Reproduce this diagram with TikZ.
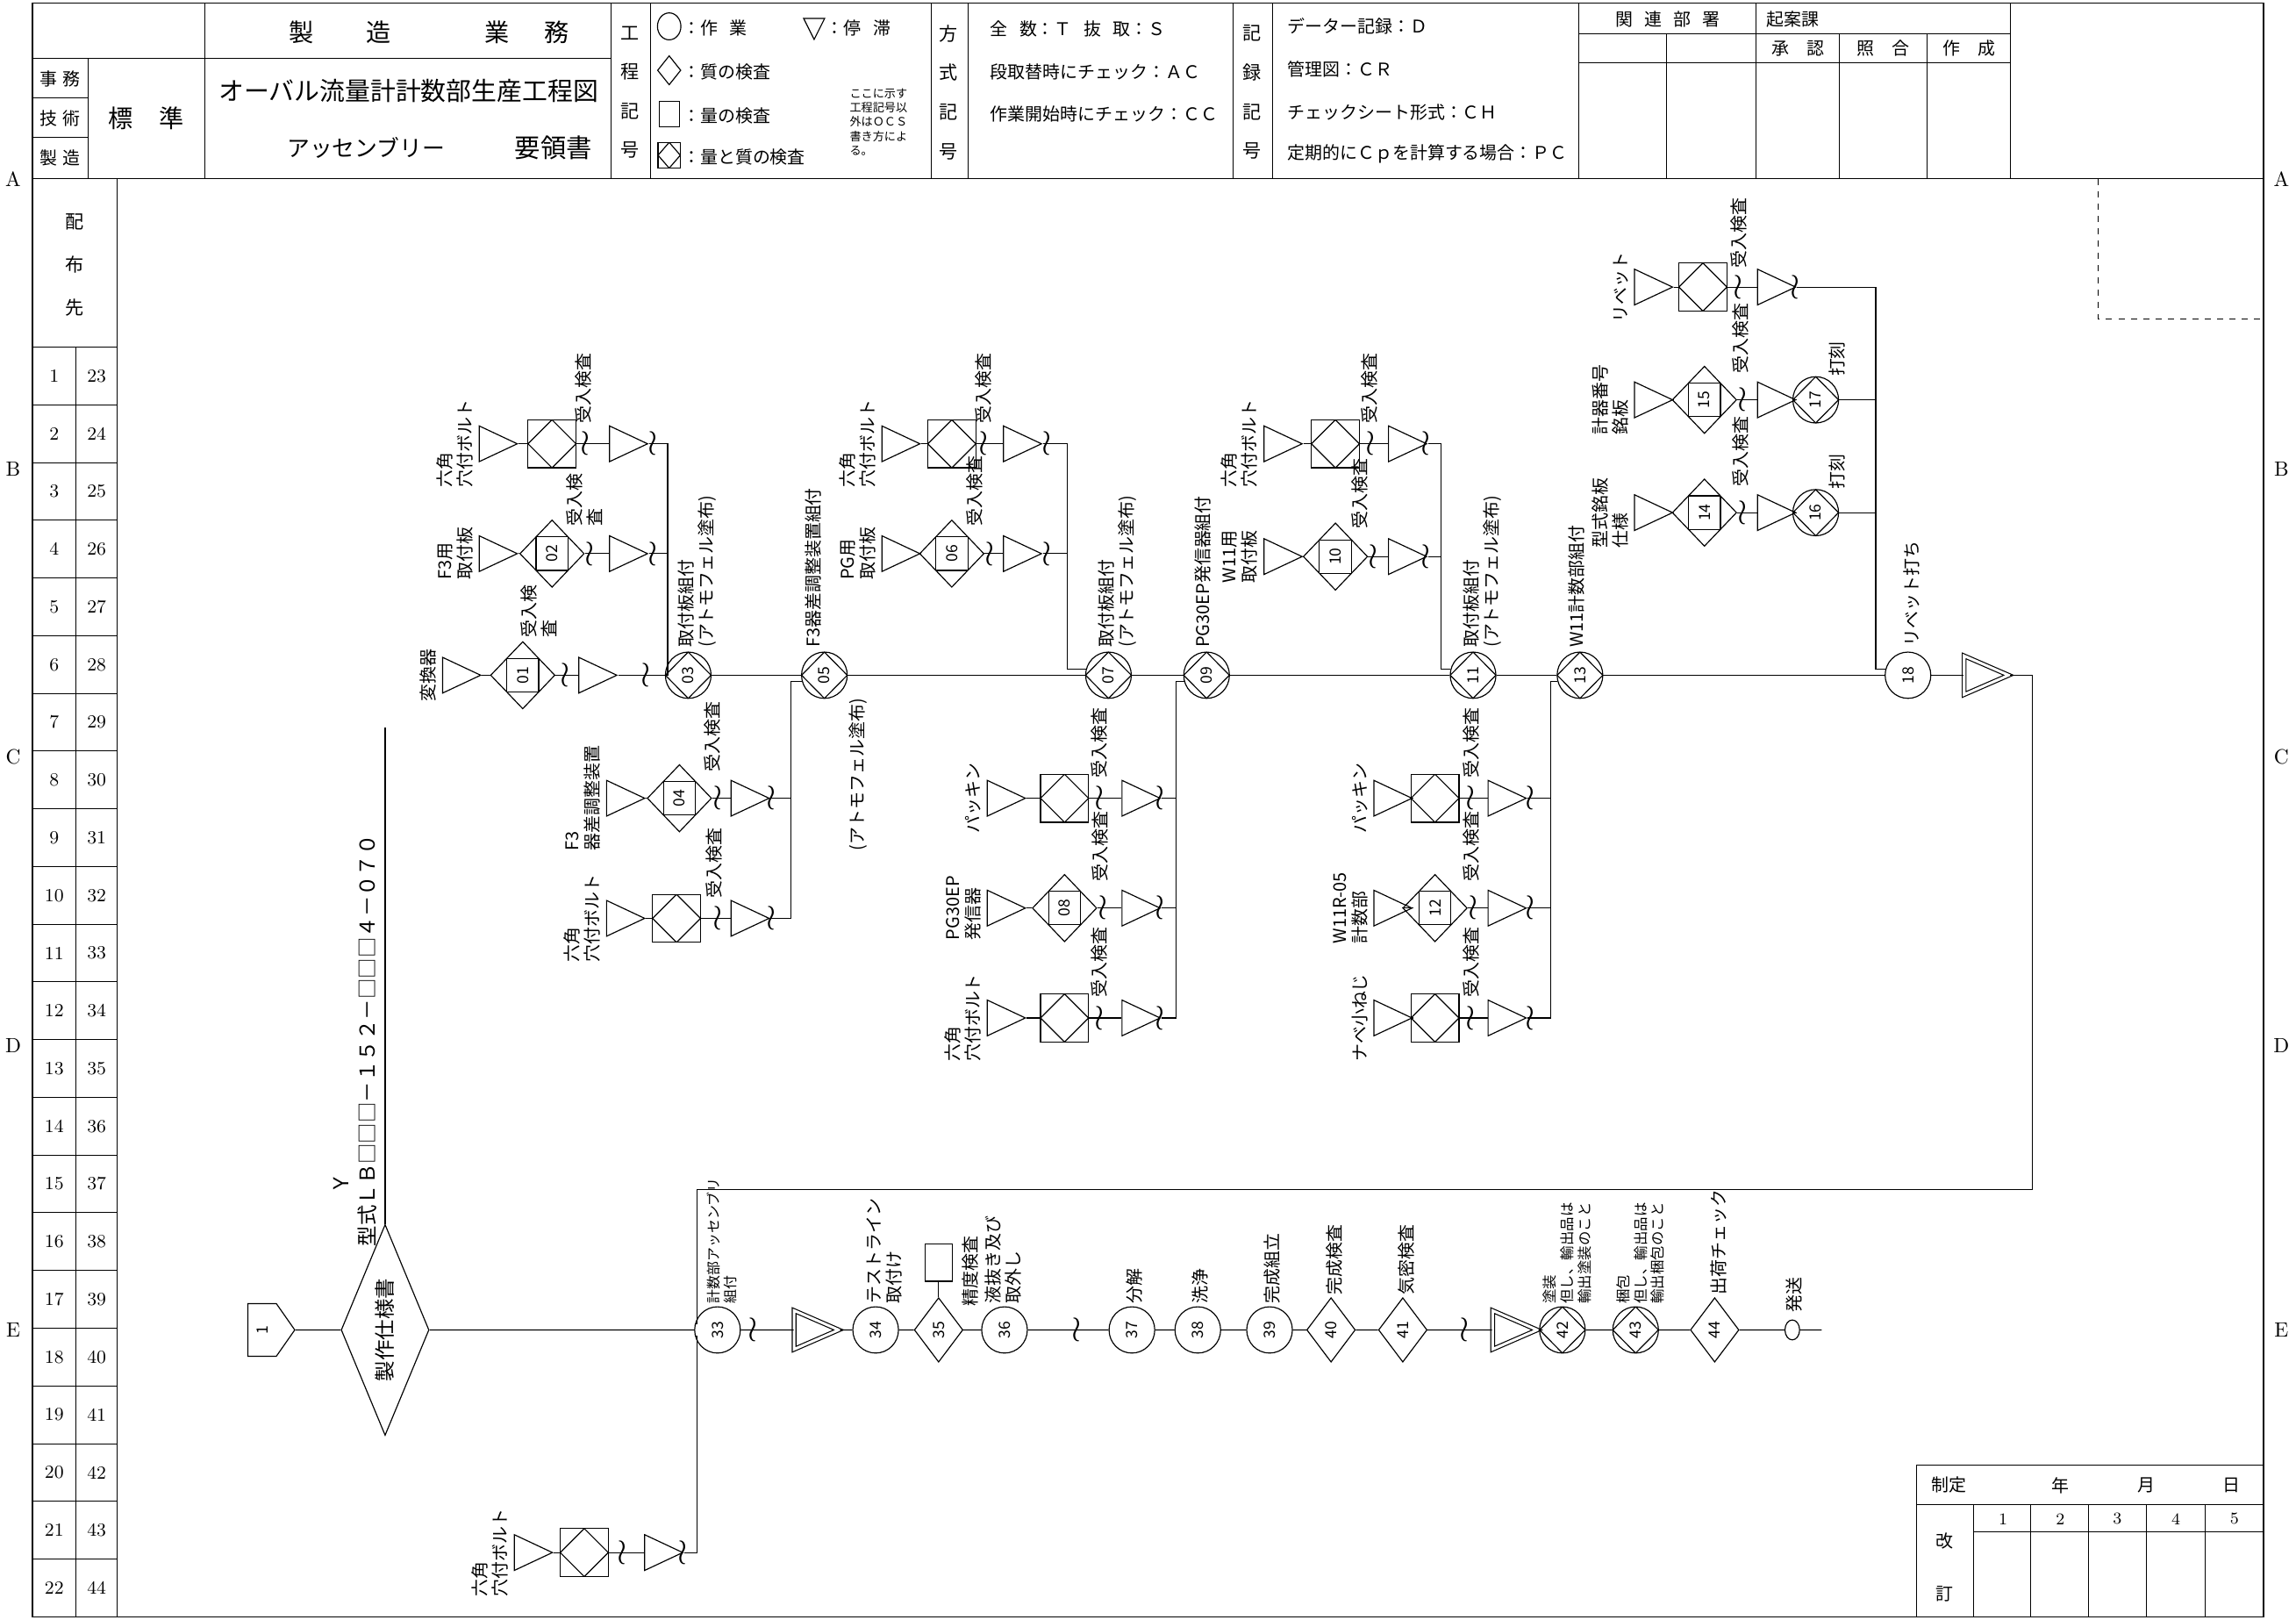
\documentclass[tikz,border=0pt]{standalone}
\usepackage{fontspec}
\newfontfamily\jp{Noto Sans CJK JP}
\usetikzlibrary{shapes.geometric,shapes.symbols,shapes.misc,calc}

\newcommand{\rn}[1]{\rotatebox{90}{#1}}
\newcommand{\lblfont}{\jp\fontsize{8.5}{9.8}\selectfont}
\newcommand{\numfont}{\jp\fontsize{7.5}{8}\selectfont}
\newcommand{\hdfont}{\jp\fontsize{8.5}{10}\selectfont}

\tikzset{
  frame/.style={line width=0.7pt},
  flow/.style={line width=0.5pt},
  stock/.style={draw, flow, isosceles triangle, isosceles triangle stretches,
    minimum width=6.1mm, minimum height=6.5mm, inner sep=0pt},
  stockdbl/.style={stock, double, double distance=1.3pt,
    minimum width=6.6mm, minimum height=7.6mm},
  insbox/.style={draw, flow, minimum width=8.2mm, minimum height=8.2mm, inner sep=0pt,
    path picture={\draw [flow] (path picture bounding box.north)
      -- (path picture bounding box.east) -- (path picture bounding box.south)
      -- (path picture bounding box.west) -- cycle;}},
  numdia/.style={draw, flow, diamond, minimum width=11mm, minimum height=11.5mm,
    inner sep=0pt, font=\numfont,
    path picture={\draw [flow]
      ($(path picture bounding box.south west)!.25!(path picture bounding box.north east)$)
      rectangle
      ($(path picture bounding box.south west)!.75!(path picture bounding box.north east)$);}},
  oper/.style={draw, flow, ellipse, minimum width=7.8mm, minimum height=7.9mm,
    inner sep=0pt, font=\numfont},
  opq/.style={oper,
    path picture={\draw [flow] (path picture bounding box.north)
      -- (path picture bounding box.east) -- (path picture bounding box.south)
      -- (path picture bounding box.west) -- cycle;}},
  qual/.style={draw, flow, diamond, minimum width=8.3mm, minimum height=11mm,
    inner sep=0pt, font=\numfont},
  brk/.style={inner sep=0pt, font=\fontsize{17}{17}\selectfont},
  lbl/.style={font=\lblfont, inner sep=0.5pt, align=left},
  up/.style={lbl, rotate=90, anchor=north west},
  lft/.style={lbl, rotate=90, anchor=south},
  dn/.style={lbl, rotate=90, anchor=east},
  hd/.style={font=\hdfont, inner sep=0pt},
}

\begin{document}
\begin{tikzpicture}[x=0.25mm,y=-0.25mm]
      \useasboundingbox (0,0) rectangle (1568,1106);
%% sheet frame, distribution list
      \draw [frame] (22,2) rectangle (1546,1104);
      \draw [frame] (22,122) -- (1546,122);
      \draw [frame] (80,122) -- (80,1104);
      \draw (52,237) -- (52,1104);
      \draw (22,237) -- (80,237);
      \node (dist) [hd, align=center, font=\jp\fontsize{9}{21}\selectfont] at (51,181) {配\\布\\先};
      \foreach \r in {1,...,22} {
        \pgfmathtruncatemacro{\rr}{\r+22}
        \node (dl\r) [font=\fontsize{9}{9}\selectfont] at (37,217.3+39.4*\r) {\r};
        \node (dr\r) [font=\fontsize{9}{9}\selectfont] at (66,217.3+39.4*\r) {\rr};
        \draw (22,237+39.4*\r) -- (80,237+39.4*\r);
      }
      \node (mA) at (9,122) {A};
      \node (mB) at (9,320) {B};
      \node (mC) at (9,517) {C};
      \node (mD) at (9,714) {D};
      \node (mE) at (9,908) {E};
      \node (mAr) at (1558,122) {A};
      \node (mBr) at (1558,320) {B};
      \node (mCr) at (1558,517) {C};
      \node (mDr) at (1558,714) {D};
      \node (mEr) at (1558,908) {E};
%% title block
      \draw (22,40) -- (417,40);
      \draw (22,67) -- (60,67);
      \draw (22,94) -- (60,94);
      \draw (60,40) -- (60,122);
      \draw (140,2) -- (140,122);
      \draw (417,2) -- (417,122);
      \draw (444,2) -- (444,122);
      \draw (636,2) -- (636,122);
      \draw (661,2) -- (661,122);
      \draw (842,2) -- (842,122);
      \draw (869,2) -- (869,122);
      \draw (1078,2) -- (1078,122);
      \draw (1078,23) -- (1373,23);
      \draw (1078,43) -- (1373,43);
      \draw (1138,23) -- (1138,122);
      \draw (1199,2) -- (1199,122);
      \draw (1256,23) -- (1256,122);
      \draw (1316,23) -- (1316,122);
      \draw (1373,2) -- (1373,122);
      \draw [dashed] (1433,122) -- (1433,218) -- (1546,218);
      \node (dep1) [hd] at (41,54) {事\hspace{0.8mm}務};
      \node (dep2) [hd] at (41,81) {技\hspace{0.8mm}術};
      \node (dep3) [hd] at (41,108) {製\hspace{0.8mm}造};
      \node (std) [hd, font=\jp\fontsize{12}{12}\selectfont] at (100,81) {標\hspace{4.5mm}準};
      \node (sec) [hd, anchor=west, font=\jp\fontsize{12}{12}\selectfont] at (197,22) {製\hspace{9mm}造\hspace{16mm}業\hspace{6mm}務};
      \node (ttl1) [hd, font=\jp\fontsize{12.3}{13}\selectfont] at (279,62) {オーバル流量計計数部生産工程図};
      \node (ttl2) [hd, font=\jp\fontsize{11}{12}\selectfont] at (250,101) {アッセンブリー};
      \node (ttl3) [hd, font=\jp\fontsize{12.5}{13}\selectfont] at (378,101) {要領書};
%% legend
      \node (kk) [hd, align=center, font=\jp\fontsize{9}{19}\selectfont] at (430,63) {工\\程\\記\\号};
      \node (lgo) [draw, flow, ellipse, minimum width=4mm, minimum height=4.6mm, inner sep=0pt] at (457,18) {};
      \node (lgot) [hd, anchor=west] at (466,19) {：作\hspace{2mm}業};
      \node (lgt) [draw, flow, isosceles triangle, isosceles triangle stretches, shape border rotate=270, minimum width=3.6mm, minimum height=3.6mm, inner sep=0pt] at (556,17) {};
      \node (lgtt) [hd, anchor=west] at (564,19) {：停\hspace{2mm}滞};
      \node (lgd) [draw, flow, diamond, minimum width=4mm, minimum height=5mm, inner sep=0pt] at (457,48) {};
      \node (lgdt) [hd, anchor=west] at (466,49) {：質の検査};
      \node (lgs) [draw, flow, minimum width=3.4mm, minimum height=4.4mm, inner sep=0pt] at (457,78) {};
      \node (lgst) [hd, anchor=west] at (466,79) {：量の検査};
      \node (lgq) [insbox, minimum width=3.8mm, minimum height=4.4mm] at (457,106) {};
      \node (lgqt) [hd, anchor=west] at (466,107) {：量と質の検査};
      \node (lgn) [hd, anchor=north west, align=left, font=\jp\fontsize{5.6}{7}\selectfont] at (580,60) {ここに示す\\工程記号以\\外はＯＣＳ\\書き方によ\\る。};
      \node (hs) [hd, align=center, font=\jp\fontsize{9}{19}\selectfont] at (648,63) {方\\式\\記\\号};
      \node (ms1) [hd, anchor=west] at (676,20) {全\hspace{2mm}数：Ｔ\hspace{2mm}抜\hspace{2mm}取：Ｓ};
      \node (ms2) [hd, anchor=west] at (676,49) {段取替時にチェック：ＡＣ};
      \node (ms3) [hd, anchor=west] at (676,78) {作業開始時にチェック：ＣＣ};
      \node (hr) [hd, align=center, font=\jp\fontsize{9}{19}\selectfont] at (855,63) {記\\録\\記\\号};
      \node (rc1) [hd, anchor=west] at (879,18) {データー記録：Ｄ};
      \node (rc2) [hd, anchor=west] at (879,47) {管理図：ＣＲ};
      \node (rc3) [hd, anchor=west] at (879,77) {チェックシート形式：ＣＨ};
      \node (rc4) [hd, anchor=west] at (879,105) {定期的にＣｐを計算する場合：ＰＣ};
      \node (rel) [hd] at (1139,13) {関\hspace{2mm}連\hspace{2mm}部\hspace{2mm}署};
      \node (kian) [hd, anchor=west] at (1206,13) {起案課};
      \node (ap1) [hd] at (1228,33) {承\hspace{3mm}認};
      \node (ap2) [hd] at (1286,33) {照\hspace{3mm}合};
      \node (ap3) [hd] at (1345,33) {作\hspace{3mm}成};
%% revision table
      \draw (1309,1000) -- (1546,1000);
      \draw (1309,1000) -- (1309,1104);
      \draw (1309,1027) -- (1546,1027);
      \draw (1348,1046) -- (1546,1046);
      \draw (1348,1027) -- (1348,1104);
      \draw (1387,1027) -- (1387,1104);
      \draw (1426,1027) -- (1426,1104);
      \draw (1466,1027) -- (1466,1104);
      \draw (1506,1027) -- (1506,1104);
      \node (rv0) [hd] at (1331,1014) {制定};
      \node (rvy) [hd] at (1407,1014) {年};
      \node (rvm) [hd] at (1466,1014) {月};
      \node (rvd) [hd] at (1524,1014) {日};
      \node (rv1) [font=\fontsize{8}{8}\selectfont] at (1368,1037) {1};
      \node (rv2) [font=\fontsize{8}{8}\selectfont] at (1407,1037) {2};
      \node (rv3) [font=\fontsize{8}{8}\selectfont] at (1446,1037) {3};
      \node (rv4) [font=\fontsize{8}{8}\selectfont] at (1486,1037) {4};
      \node (rv5) [font=\fontsize{8}{8}\selectfont] at (1526,1037) {5};
      \node (rvk1) [hd] at (1328,1052) {改};
      \node (rvk2) [hd] at (1328,1088) {訂};
%% upper main line
      \node (tconv) [stock] at (310,461) {};
      \node [lft] at ([xshift=-0.75mm]tconv.west) {変換器};
      \node (q01) [numdia] at (357,461) {\rn{01}};
      \node [up] at (355,436) {受入検\\査};
      \node (k01) [brk] at (386,461) {$\wr$};
      \node (s01) [stock] at (403,461) {};
      \node (k01b) [brk] at (441,461) {$\wr$};
      \node (n03) [opq] at (470,461) {\rn{03}};
      \node [up] at (462,443) {取付板組付\\(アトモフェル塗布)};
      \node (n05) [opq] at (563,461) {\rn{05}};
      \node [up] at (549,443) {F3器差調整装置組付};
      \node [dn] at (586,476) {(アトモフェル塗布)};
      \node (n07) [opq] at (757,461) {\rn{07}};
      \node [up] at (749,443) {取付板組付\\(アトモフェル塗布)};
      \node (n09) [opq] at (824,461) {\rn{09}};
      \node [up] at (815,443) {PG30EP発信器組付};
      \node (n11) [opq] at (1006,461) {\rn{11}};
      \node [up] at (998,443) {取付板組付\\(アトモフェル塗布)};
      \node (n13) [opq] at (1079,461) {\rn{13}};
      \node [up] at (1070,443) {W11計数部組付};
      \node (n18) [oper] at (1303,461) {\rn{18}};
      \node [up] at (1299,442) {リベット打ち};
      \node (s18) [stockdbl] at (1350,461) {};
      \coordinate (cR1) at (1388,461);
      \coordinate (cR2) at (1388,812);
      \coordinate (cL2) at (476,812);
      \draw [flow] (tconv) -- (q01) -- (s01) -- (n03) -- (n05) -- (n07) -- (n09) -- (n11) -- (n13) -- (n18) -- (s18) -- (cR1) -- (cR2) -- (cL2);
%% feed to 03
      \node (a03s1) [stock] at (335,303) {};
      \node [lft] at ([xshift=-0.75mm]a03s1.west) {六角\\穴付ボルト};
      \node (a03q) [insbox] at (377,303) {};
      \node [up] at (392,290) {受入検査};
      \node (ka03) [brk] at (400,303) {$\wr$};
      \node (a03s2) [stock] at (424,303) {};
      \node (ka03b) [brk] at (446,303) {$\wr$};
      \coordinate (b03a) at (456,303);
      \node (b03s1) [stock] at (335,378) {};
      \node [lft] at ([xshift=-0.75mm]b03s1.west) {F3用\\取付板};
      \node (q02) [numdia] at (377,378) {\rn{02}};
      \node [up] at (386,360) {受入検\\査};
      \node (kb03) [brk] at (403,378) {$\wr$};
      \node (b03s2) [stock] at (424,378) {};
      \node (kb03b) [brk] at (446,378) {$\wr$};
      \coordinate (b03b) at (456,378);
      \draw [flow] (a03s1) -- (a03q) -- (a03s2) -- (b03a) |- (n03.west);
      \draw [flow] (b03s1) -- (q02) -- (b03s2) -- (b03b);
%% feed to 05
      \node (c05s1) [stock] at (422,545) {};
      \node [lft] at ([xshift=-0.75mm]c05s1.west) {F3\\器差調整装置};
      \node (q04) [numdia] at (464,545) {\rn{04}};
      \node [up] at (480,528) {受入検査};
      \node (kc05) [brk] at (490,545) {$\wr$};
      \node (c05s2) [stock] at (507,545) {};
      \node (kc05b) [brk] at (527,545) {$\wr$};
      \coordinate (b05c) at (540,545);
      \node (d05s1) [stock] at (422,627) {};
      \node [lft] at ([xshift=-0.75mm]d05s1.west) {六角\\穴付ボルト};
      \node (d05q) [insbox] at (462,627) {};
      \node [up] at (481,614) {受入検査};
      \node (kd05) [brk] at (490,627) {$\wr$};
      \node (d05s2) [stock] at (507,627) {};
      \node (kd05b) [brk] at (527,627) {$\wr$};
      \coordinate (b05d) at (540,627);
      \draw [flow] (c05s1) -- (q04) -- (c05s2) -- (b05c);
      \draw [flow] (d05s1) -- (d05q) -- (d05s2) -- (b05d) |- (n05.195);
%% feed to 07
      \node (a07s1) [stock] at (610,303) {};
      \node [lft] at ([xshift=-0.75mm]a07s1.west) {六角\\穴付ボルト};
      \node (a07q) [insbox] at (650,303) {};
      \node [up] at (665,290) {受入検査};
      \node (ka07) [brk] at (672,303) {$\wr$};
      \node (a07s2) [stock] at (693,303) {};
      \node (ka07b) [brk] at (715,303) {$\wr$};
      \coordinate (b07a) at (729,303);
      \node (b07s1) [stock] at (610,378) {};
      \node [lft] at ([xshift=-0.75mm]b07s1.west) {PG用\\取付板};
      \node (q06) [numdia] at (650,378) {\rn{06}};
      \node [up] at (659,360) {受入検査};
      \node (kb07) [brk] at (676,378) {$\wr$};
      \node (b07s2) [stock] at (693,378) {};
      \node (kb07b) [brk] at (715,378) {$\wr$};
      \coordinate (b07b) at (729,378);
      \draw [flow] (a07s1) -- (a07q) -- (a07s2) -- (b07a) |- (n07.165);
      \draw [flow] (b07s1) -- (q06) -- (b07s2) -- (b07b);
%% feed to 09
      \node (c09s1) [stock] at (682,545) {};
      \node [lft] at ([xshift=-0.75mm]c09s1.west) {パッキン};
      \node (c09q) [insbox] at (727,545) {};
      \node [up] at (744,532) {受入検査};
      \node (kc09) [brk] at (751,545) {$\wr$};
      \node (c09s2) [stock] at (774,545) {};
      \node (kc09b) [brk] at (792,545) {$\wr$};
      \coordinate (b09c) at (803,545);
      \node (d09s1) [stock] at (682,620) {};
      \node [lft] at ([xshift=-0.75mm]d09s1.west) {PG30EP\\発信器};
      \node (q08) [numdia] at (727,620) {\rn{08}};
      \node [up] at (745,603) {受入検査};
      \node (kd09) [brk] at (753,620) {$\wr$};
      \node (d09s2) [stock] at (774,620) {};
      \node (kd09b) [brk] at (792,620) {$\wr$};
      \coordinate (b09d) at (803,620);
      \node (e09s1) [stock] at (682,695) {};
      \node [lft] at ([xshift=-0.75mm]e09s1.west) {六角\\穴付ボルト};
      \node (e09q) [insbox] at (727,695) {};
      \node [up] at (744,682) {受入検査};
      \node (ke09) [brk] at (751,695) {$\wr$};
      \node (e09s2) [stock] at (774,695) {};
      \node (ke09b) [brk] at (792,695) {$\wr$};
      \coordinate (b09e) at (803,695);
      \draw [flow] (c09s1) -- (c09q) -- (c09s2) -- (b09c);
      \draw [flow] (d09s1) -- (q08) -- (d09s2) -- (b09d);
      \draw [flow] (e09s1) -- (e09q) -- (e09s2) -- (b09e) |- (n09.195);
%% feed to 11
      \node (a11s1) [stock] at (871,303) {};
      \node [lft] at ([xshift=-0.75mm]a11s1.west) {六角\\穴付ボルト};
      \node (a11q) [insbox] at (912,303) {};
      \node [up] at (929,290) {受入検査};
      \node (ka11) [brk] at (936,303) {$\wr$};
      \node (a11s2) [stock] at (956,303) {};
      \node (ka11b) [brk] at (974,303) {$\wr$};
      \coordinate (b11a) at (984,303);
      \node (b11s1) [stock] at (871,380) {};
      \node [lft] at ([xshift=-0.75mm]b11s1.west) {W11用\\取付板};
      \node (q10) [numdia] at (912,380) {\rn{10}};
      \node [up] at (922,362) {受入検査};
      \node (kb11) [brk] at (938,380) {$\wr$};
      \node (b11s2) [stock] at (956,380) {};
      \node (kb11b) [brk] at (974,380) {$\wr$};
      \coordinate (b11b) at (984,380);
      \draw [flow] (a11s1) -- (a11q) -- (a11s2) -- (b11a) |- (n11.165);
      \draw [flow] (b11s1) -- (q10) -- (b11s2) -- (b11b);
%% feed to 13
      \node (c13s1) [stock] at (946,545) {};
      \node [lft] at ([xshift=-0.75mm]c13s1.west) {パッキン};
      \node (c13q) [insbox] at (980,545) {};
      \node [up] at (998,532) {受入検査};
      \node (kc13) [brk] at (1004,545) {$\wr$};
      \node (c13s2) [stock] at (1024,545) {};
      \node (kc13b) [brk] at (1045,545) {$\wr$};
      \coordinate (b13c) at (1059,545);
      \node (d13s1) [stock] at (946,620) {};
      \node [lft] at ([xshift=-0.75mm]d13s1.west) {W11R-05\\計数部};
      \node (q12) [numdia] at (980,620) {\rn{12}};
      \node [up] at (998,603) {受入検査};
      \node (kd13) [brk] at (1006,620) {$\wr$};
      \node (d13s2) [stock] at (1024,620) {};
      \node (kd13b) [brk] at (1045,620) {$\wr$};
      \coordinate (b13d) at (1059,620);
      \node (e13s1) [stock] at (946,695) {};
      \node [lft] at ([xshift=-0.75mm]e13s1.west) {ナベ小ねじ};
      \node (e13q) [insbox] at (980,695) {};
      \node [up] at (998,682) {受入検査};
      \node (ke13) [brk] at (1004,695) {$\wr$};
      \node (e13s2) [stock] at (1024,695) {};
      \node (ke13b) [brk] at (1045,695) {$\wr$};
      \coordinate (b13e) at (1059,695);
      \draw [flow] (c13s1) -- (c13q) -- (c13s2) -- (b13c);
      \draw [flow] (d13s1) -- (q12) -- (d13s2) -- (b13d);
      \draw [flow] (e13s1) -- (e13q) -- (e13s2) -- (b13e) |- (n13.195);
%% feed to 18
      \node (rs1) [stock] at (1124,196) {};
      \node [lft] at ([xshift=-0.75mm]rs1.west) {リベット};
      \node (rq) [insbox] at (1163,196) {};
      \node [up] at (1181,184) {受入検査};
      \node (kr) [brk] at (1187,196) {$\wr$};
      \node (rs2) [stock] at (1208,196) {};
      \node (krb) [brk] at (1226,196) {$\wr$};
      \coordinate (b18r) at (1281,196);
      \node (s15a) [stock] at (1124,273) {};
      \node [lft] at ([xshift=-0.75mm]s15a.west) {計器番号\\銘板};
      \node (q15) [numdia] at (1164,273) {\rn{15}};
      \node [up] at (1182,256) {受入検査};
      \node (k15) [brk] at (1190,273) {$\wr$};
      \node (s15b) [stock] at (1208,273) {};
      \node (n17) [opq] at (1240,273) {\rn{17}};
      \node [up] at (1248,258) {打刻};
      \coordinate (b18f) at (1281,273);
      \node (s14a) [stock] at (1124,350) {};
      \node [lft] at ([xshift=-0.75mm]s14a.west) {型式銘板\\仕様};
      \node (q14) [numdia] at (1164,350) {\rn{14}};
      \node [up] at (1182,333) {受入検査};
      \node (k14) [brk] at (1190,350) {$\wr$};
      \node (s14b) [stock] at (1208,350) {};
      \node (n16) [opq] at (1240,350) {\rn{16}};
      \node [up] at (1248,335) {打刻};
      \coordinate (b18g) at (1281,350);
      \draw [flow] (rs1) -- (rq) -- (rs2) -- (b18r) |- (n18.165);
      \draw [flow] (s15a) -- (q15) -- (s15b) -- (n17) -- (b18f);
      \draw [flow] (s14a) -- (q14) -- (s14b) -- (n16) -- (b18g);
%% lower main line
      \node (n1) [draw, flow, signal, signal to=east, signal pointer angle=110, minimum width=8mm, minimum height=9mm, inner sep=0pt, font=\numfont] at (179,908) {\rn{1}};
      \node (bigd) [draw, flow, diamond, minimum width=15mm, minimum height=36mm, inner sep=0pt] at (263,908) {};
      \node (bigdt) [lbl, font=\jp\fontsize{10}{10}\selectfont] at (263,908) {\rn{製作仕様書}};
      \coordinate (ytop) at (263,497);
      \draw [flow] (bigd) -- (ytop);
      \node (mdl) [lbl, rotate=90, anchor=west, font=\jp\fontsize{10}{10}\selectfont] at (251,852) {型式ＬＢ□□□－１５２－□□□４－０７０};
      \node (mdly) [lbl, rotate=90, font=\jp\fontsize{10}{10}\selectfont] at (233,808) {Ｙ};
      \node (n33) [oper] at (490,908) {\rn{33}};
      \node [up, font=\jp\fontsize{6.8}{8}\selectfont] at (482,891) {計数部アッセンブリ\\組付};
      \node (k33) [brk] at (514,908) {$\wr$};
      \node (s34) [stockdbl] at (551,908) {};
      \node (n34) [oper] at (598,908) {\rn{34}};
      \node [up] at (591,891) {テストライン\\取付け};
      \node (n35) [qual] at (641,908) {\rn{35}};
      \node (doc35) [draw, flow, chamfered rectangle, chamfered rectangle corners=north east, minimum width=4.6mm, minimum height=6.4mm, inner sep=0pt] at (641,862) {};
      \node [up] at (656,893) {精度検査};
      \node (n36) [oper] at (686,908) {\rn{36}};
      \node [up] at (672,891) {液抜き及び\\取外し};
      \node (k36) [brk] at (735,908) {$\wr$};
      \node (n37) [oper] at (773,908) {\rn{37}};
      \node [up] at (768,891) {分解};
      \node (n38) [oper] at (818,908) {\rn{38}};
      \node [up] at (813,891) {洗浄};
      \node (n39) [oper] at (867,908) {\rn{39}};
      \node [up] at (862,891) {完成組立};
      \node (n40) [qual] at (909,908) {\rn{40}};
      \node [up] at (905,885) {完成検査};
      \node (n41) [qual] at (958,908) {\rn{41}};
      \node [up] at (954,885) {気密検査};
      \node (k41) [brk] at (1000,908) {$\wr$};
      \node (s42) [stockdbl] at (1028,908) {};
      \node (n42) [opq] at (1067,908) {\rn{42}};
      \node [up, font=\jp\fontsize{7}{8.4}\selectfont] at (1053,891) {塗装\\但し、輸出品は\\輸出塗装のこと};
      \node (n43) [opq] at (1117,908) {\rn{43}};
      \node [up, font=\jp\fontsize{7}{8.4}\selectfont] at (1103,891) {梱包\\但し、輸出品は\\輸出梱包のこと};
      \node (n44) [qual] at (1171,908) {\rn{44}};
      \node [up] at (1167,885) {出荷チェック};
      \node (nend) [draw, flow, ellipse, minimum width=2.5mm, minimum height=3.4mm, inner sep=0pt] at (1224,908) {};
      \node [up] at (1219,897) {発送};
      \coordinate (cend) at (1244,908);
      \draw [flow] (n1) -- (bigd) -- (n33) -- (s34) -- (n34) -- (n35) -- (n36) -- (n37) -- (n38) -- (n39) -- (n40) -- (n41) -- (s42) -- (n42) -- (n43) -- (n44) -- (nend) -- (cend);
      \draw [flow] (n35) -- (doc35);
      \draw [flow] (cL2) |- (n33.165);
%% feed to 33
      \node (bs1) [stock] at (359,1060) {};
      \node [lft] at ([xshift=-0.75mm]bs1.west) {六角\\穴付ボルト};
      \node (bq) [insbox] at (399,1060) {};
      \node (kbq) [brk] at (425,1060) {$\wr$};
      \node (bs2) [stock] at (448,1060) {};
      \node (kbqb) [brk] at (466,1060) {$\wr$};
      \coordinate (bbus) at (476,1060);
      \draw [flow] (bs1) -- (bq) -- (bs2) -- (bbus) |- (n33.195);
    \end{tikzpicture}
\end{document}
